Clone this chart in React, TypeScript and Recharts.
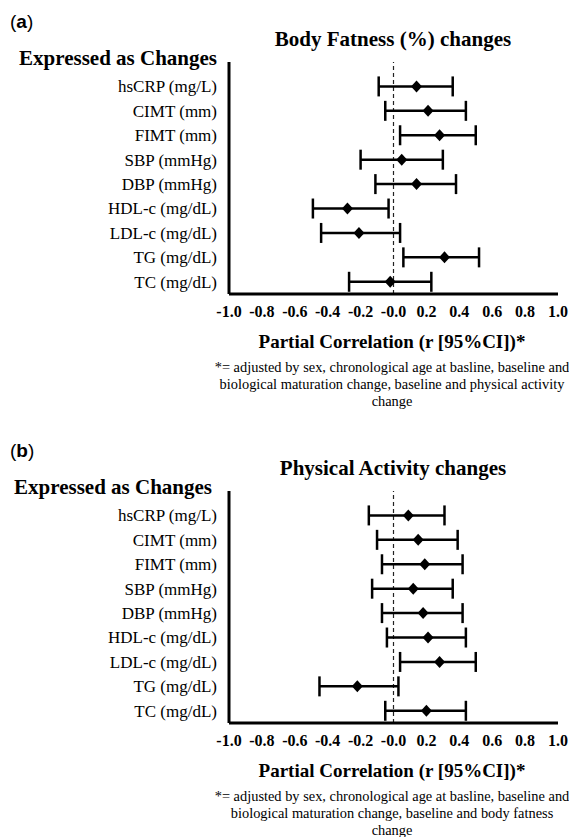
import React from 'react';
import { ScatterChart, Scatter, XAxis, YAxis, ErrorBar, ReferenceLine } from 'recharts';

const categories = [
  'hsCRP (mg/L)',
  'CIMT (mm)',
  'FIMT (mm)',
  'SBP (mmHg)',
  'DBP (mmHg)',
  'HDL-c (mg/dL)',
  'LDL-c (mg/dL)',
  'TG (mg/dL)',
  'TC (mg/dL)',
];

// Panel (a): Body Fatness (%) changes
const fatnessR = [0.14, 0.21, 0.28, 0.05, 0.14, -0.28, -0.21, 0.31, -0.02];
const fatnessLow = [-0.09, -0.05, 0.04, -0.2, -0.11, -0.49, -0.44, 0.06, -0.27];
const fatnessHigh = [0.36, 0.44, 0.5, 0.3, 0.38, -0.03, 0.04, 0.52, 0.23];

// Panel (b): Physical Activity changes
const activityR = [0.09, 0.15, 0.19, 0.12, 0.18, 0.21, 0.28, -0.22, 0.2];
const activityLow = [-0.15, -0.1, -0.07, -0.13, -0.07, -0.04, 0.04, -0.45, -0.05];
const activityHigh = [0.31, 0.39, 0.42, 0.36, 0.42, 0.44, 0.5, 0.03, 0.44];

const xTicks = [-1, -0.8, -0.6, -0.4, -0.2, 0, 0.2, 0.4, 0.6, 0.8, 1];
const xTickLabels = ['-1.0', '-0.8', '-0.6', '-0.4', '-0.2', '-0.0', '0.2', '0.4', '0.6', '0.8', '1.0'];
const yTicks = [1, 2, 3, 4, 5, 6, 7, 8, 9];

const panelA = {
  letter: 'a',
  title: 'Body Fatness (%) changes',
  exprRight: 217,
  note: [
    '*= adjusted by sex, chronological age at basline, baseline and',
    'biological maturation change, baseline and physical activity',
    'change',
  ],
};
const panelB = {
  letter: 'b',
  title: 'Physical Activity changes',
  exprRight: 212,
  note: [
    '*= adjusted by sex, chronological age at basline, baseline and',
    'biological maturation change, baseline and body fatness',
    'change',
  ],
};

const SERIF = '"Liberation Serif", "Times New Roman", Times, serif';
const SANS = '"Liberation Sans", Arial, Helvetica, sans-serif';

function buildRows(r: number[], low: number[], high: number[]) {
  return categories.map((c, i) => ({
    name: c,
    pos: i + 1,
    r: r[i],
    err: [r[i] - low[i], high[i] - r[i]],
  }));
}

const Diamond = (props: any) => {
  const { cx, cy } = props;
  if (cx == null || cy == null) return null;
  return (
    <path
      d={`M${cx},${cy - 6} L${cx + 5.5},${cy} L${cx},${cy + 6} L${cx - 5.5},${cy} Z`}
      fill="#000"
    />
  );
};

const XTick = (props: any) => {
  const { x, y, payload } = props;
  const i = xTicks.findIndex((t) => Math.abs(t - payload.value) < 1e-9);
  return (
    <text x={x} y={y} dy={23} textAnchor="middle" fontFamily={SERIF} fontWeight={700} fontSize={16} fill="#000">
      {i >= 0 ? xTickLabels[i] : payload.value}
    </text>
  );
};

const YTick = (props: any) => {
  const { x, y, payload } = props;
  return (
    <text x={x} y={y} dy="0.35em" textAnchor="end" fontFamily={SERIF} fontSize={17} fill="#000">
      {categories[payload.value - 1]}
    </text>
  );
};

const abs = (left: number, top: number, extra: React.CSSProperties = {}): React.CSSProperties => ({
  position: 'absolute',
  left,
  top,
  whiteSpace: 'nowrap',
  color: '#000',
  margin: 0,
  ...extra,
});

function Panel({ top, info, rows }: { top: number; info: typeof panelA; rows: ReturnType<typeof buildRows> }) {
  return (
    <div style={{ position: 'absolute', left: 0, top, width: 569, height: 420 }}>
      <div style={abs(10, 22 - 12, { fontFamily: SANS, fontSize: 19, lineHeight: '24px' })}>
        (<b>{info.letter}</b>)
      </div>
      <div
        style={abs(193, 39 - 12, {
          width: 400,
          textAlign: 'center',
          fontFamily: SERIF,
          fontWeight: 700,
          fontSize: 21,
          lineHeight: '24px',
        })}
      >
        {info.title}
      </div>
      <div
        style={abs(0, 58 - 12, {
          width: info.exprRight,
          textAlign: 'right',
          fontFamily: SERIF,
          fontWeight: 700,
          fontSize: 21,
          lineHeight: '24px',
        })}
      >
        Expressed as Changes
      </div>
      <ScatterChart width={569} height={420} margin={{ top: 62, right: 11, bottom: 96, left: 0 }}>
        <XAxis
          type="number"
          dataKey="r"
          domain={[-1, 1]}
          ticks={xTicks}
          interval={0}
          allowDataOverflow
          tickLine={false}
          tickSize={0}
          tickMargin={0}
          height={30}
          axisLine={{ stroke: '#000', strokeWidth: 3 }}
          tick={<XTick />}
        />
        <YAxis
          type="number"
          dataKey="pos"
          domain={[0, 9.5]}
          reversed
          ticks={yTicks}
          interval={0}
          allowDataOverflow
          tickLine={false}
          tickSize={0}
          tickMargin={12}
          width={229}
          axisLine={{ stroke: '#000', strokeWidth: 3 }}
          tick={<YTick />}
        />
        <ReferenceLine x={0} stroke="#222" strokeWidth={1.2} strokeDasharray="4 3" />
        <Scatter data={rows} shape={<Diamond />} isAnimationActive={false}>
          <ErrorBar dataKey="err" direction="x" width={10} strokeWidth={2.5} stroke="#000" isAnimationActive={false} />
        </Scatter>
      </ScatterChart>
      <div
        style={abs(192, 342 - 12, {
          width: 400,
          textAlign: 'center',
          fontFamily: SERIF,
          fontWeight: 700,
          fontSize: 19,
          lineHeight: '24px',
        })}
      >
        Partial Correlation (r [95%CI])*
      </div>
      {info.note.map((line, i) => (
        <div
          key={i}
          style={abs(192, 367 + i * 17 - 9, {
            width: 400,
            textAlign: 'center',
            fontFamily: SERIF,
            fontSize: 14.4,
            lineHeight: '18px',
          })}
        >
          {line}
        </div>
      ))}
    </div>
  );
}

export default function App() {
  const rowsA = buildRows(fatnessR, fatnessLow, fatnessHigh);
  const rowsB = buildRows(activityR, activityLow, activityHigh);
  return (
    <div style={{ position: 'absolute', left: 0, top: 0, width: 569, height: 837, background: '#fff', overflow: 'hidden' }}>
      <Panel top={0} info={panelA} rows={rowsA} />
      <Panel top={429} info={panelB} rows={rowsB} />
    </div>
  );
}
